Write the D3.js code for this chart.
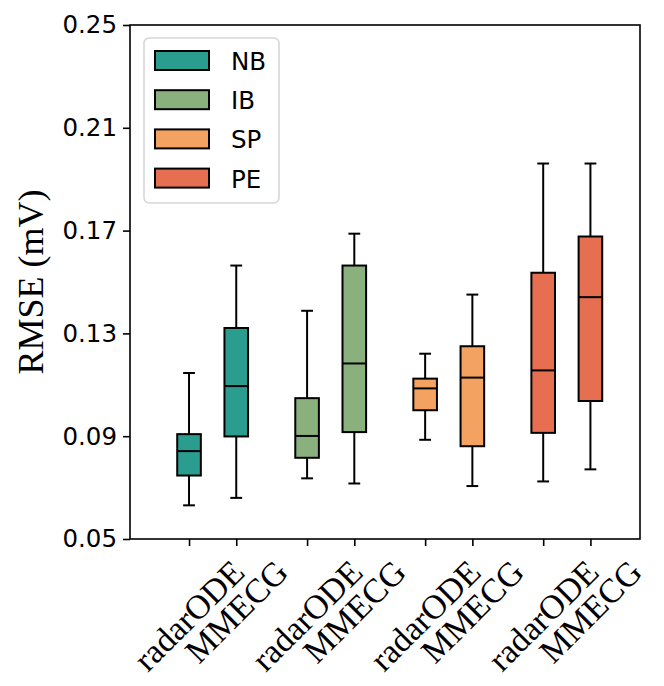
<!DOCTYPE html>
<html>
<head>
<meta charset="utf-8">
<script src="https://cdn.jsdelivr.net/npm/d3@7"></script>
<style>
  body { margin: 0; background: #fff; }
  svg { display: block; }
  .tick-y text { font-family: "DejaVu Sans", sans-serif; font-size: 24.5px; fill: #000; }
  .tick-x text { font-family: "Liberation Serif", "Times New Roman", serif; font-size: 34px; fill: #000; }
</style>
</head>
<body>
<div id="chart"></div>
<script>
const width = 664;
const height = 686;

// groups, methods and box statistics (whisker low, Q1, median, Q3, whisker high)
const groups = ["NB", "IB", "SP", "PE"];
const methods = ["radarODE", "MMECG"];
const colors = ["#2a9d8f", "#8ab17d", "#f4a261", "#e76f51"];
const whiskerLow = [0.0631, 0.0660, 0.0736, 0.0716, 0.0886, 0.0706, 0.0724, 0.0771];
const q1 = [0.0747, 0.0899, 0.0816, 0.0916, 0.1001, 0.0861, 0.0913, 0.1037];
const median = [0.0842, 0.1095, 0.0901, 0.1183, 0.1086, 0.1128, 0.1156, 0.1441];
const q3 = [0.0908, 0.1321, 0.1048, 0.1564, 0.1124, 0.1250, 0.1536, 0.1677];
const whiskerHigh = [0.1146, 0.1564, 0.1388, 0.1688, 0.1221, 0.1451, 0.1961, 0.1961];
const yTicks = [0.05, 0.09, 0.13, 0.17, 0.21, 0.25];

const margin = { left: 130, right: 640, top: 25, bottom: 539 };

// build one record per box
const boxes = [];
groups.forEach((g, gi) => {
  methods.forEach((m, mi) => {
    const k = gi * 2 + mi;
    boxes.push({
      group: g, method: m, color: colors[gi],
      pos: gi + (mi === 0 ? -0.2 : 0.2),
      lo: whiskerLow[k], q1: q1[k], med: median[k], q3: q3[k], hi: whiskerHigh[k]
    });
  });
});

const svg = d3.select("#chart").append("svg")
  .attr("width", width)
  .attr("height", height);

const x = d3.scaleLinear().domain([-0.7, 3.62]).range([margin.left, margin.right]);
const y = d3.scaleLinear().domain([0.05, 0.25]).range([margin.bottom, margin.top]);
const boxW = x(0.2) - x(0);
const capW = boxW / 2;

// y axis
const yAxis = svg.append("g")
  .attr("class", "tick-y")
  .attr("transform", `translate(${margin.left},0)`)
  .call(d3.axisLeft(y).tickValues(yTicks).tickFormat(d3.format(".2f")).tickSize(7).tickPadding(6));
yAxis.select(".domain").remove();
yAxis.selectAll("line").attr("stroke", "#000").attr("stroke-width", 1.6);

// x axis
const xAxis = svg.append("g")
  .attr("class", "tick-x")
  .attr("transform", `translate(0,${margin.bottom})`)
  .call(d3.axisBottom(x).tickValues(boxes.map(d => d.pos)).tickFormat((d, i) => boxes[i].method).tickSize(7));
xAxis.select(".domain").remove();
xAxis.selectAll("line").attr("stroke", "#000").attr("stroke-width", 1.6);

// rotate labels 45 deg, bbox centred on tick (like matplotlib)
xAxis.selectAll(".tick text")
  .attr("text-anchor", "end")
  .attr("dy", null)
  .attr("y", 0)
  .attr("transform", "rotate(-45)")
  .each(function () {
    const r = this.getBoundingClientRect();
    const tickX = x(d3.select(this.parentNode).datum());
    const dx = tickX - (r.left + r.right) / 2;
    const dy = (margin.bottom + 14) - r.top;
    d3.select(this).attr("transform", `translate(${dx},${dy}) rotate(-45)`);
  });

// y label
svg.append("text")
  .attr("transform", `translate(43,${(margin.top + margin.bottom) / 2}) rotate(-90)`)
  .attr("text-anchor", "middle")
  .style("font-family", "'Liberation Serif', 'Times New Roman', serif")
  .style("font-size", "36px")
  .text("RMSE (mV)");

// boxes
const bx = svg.append("g").selectAll("g")
  .data(boxes)
  .join("g");

bx.append("line")
  .attr("x1", d => x(d.pos)).attr("x2", d => x(d.pos))
  .attr("y1", d => y(d.lo)).attr("y2", d => y(d.q1))
  .attr("stroke", "#000").attr("stroke-width", 2);
bx.append("line")
  .attr("x1", d => x(d.pos)).attr("x2", d => x(d.pos))
  .attr("y1", d => y(d.q3)).attr("y2", d => y(d.hi))
  .attr("stroke", "#000").attr("stroke-width", 2);
bx.append("line")
  .attr("x1", d => x(d.pos) - capW / 2).attr("x2", d => x(d.pos) + capW / 2)
  .attr("y1", d => y(d.lo)).attr("y2", d => y(d.lo))
  .attr("stroke", "#000").attr("stroke-width", 2);
bx.append("line")
  .attr("x1", d => x(d.pos) - capW / 2).attr("x2", d => x(d.pos) + capW / 2)
  .attr("y1", d => y(d.hi)).attr("y2", d => y(d.hi))
  .attr("stroke", "#000").attr("stroke-width", 2);
bx.append("rect")
  .attr("x", d => x(d.pos) - boxW / 2)
  .attr("width", boxW)
  .attr("y", d => y(d.q3))
  .attr("height", d => y(d.q1) - y(d.q3))
  .attr("fill", d => d.color)
  .attr("stroke", "#000").attr("stroke-width", 2);
bx.append("line")
  .attr("x1", d => x(d.pos) - boxW / 2).attr("x2", d => x(d.pos) + boxW / 2)
  .attr("y1", d => y(d.med)).attr("y2", d => y(d.med))
  .attr("stroke", "#000").attr("stroke-width", 2);

// frame
svg.append("rect")
  .attr("x", margin.left).attr("y", margin.top)
  .attr("width", margin.right - margin.left)
  .attr("height", margin.bottom - margin.top)
  .attr("fill", "none").attr("stroke", "#000").attr("stroke-width", 1.6);

// legend
const legend = svg.append("g");
legend.append("rect")
  .attr("x", 144).attr("y", 38).attr("width", 135).attr("height", 165)
  .attr("rx", 5)
  .attr("fill", "#fff").attr("fill-opacity", 0.8)
  .attr("stroke", "#d6d6d6").attr("stroke-width", 1.6);
const li = legend.selectAll("g")
  .data(groups)
  .join("g")
  .attr("transform", (d, i) => `translate(155,${51 + i * 39.2})`);
li.append("rect")
  .attr("width", 54).attr("height", 19)
  .attr("fill", (d, i) => colors[i])
  .attr("stroke", "#000").attr("stroke-width", 2);
li.append("text")
  .attr("x", 76).attr("y", 19)
  .style("font-family", "'DejaVu Sans', sans-serif")
  .style("font-size", "24.5px")
  .text(d => d);
</script>
</body>
</html>
